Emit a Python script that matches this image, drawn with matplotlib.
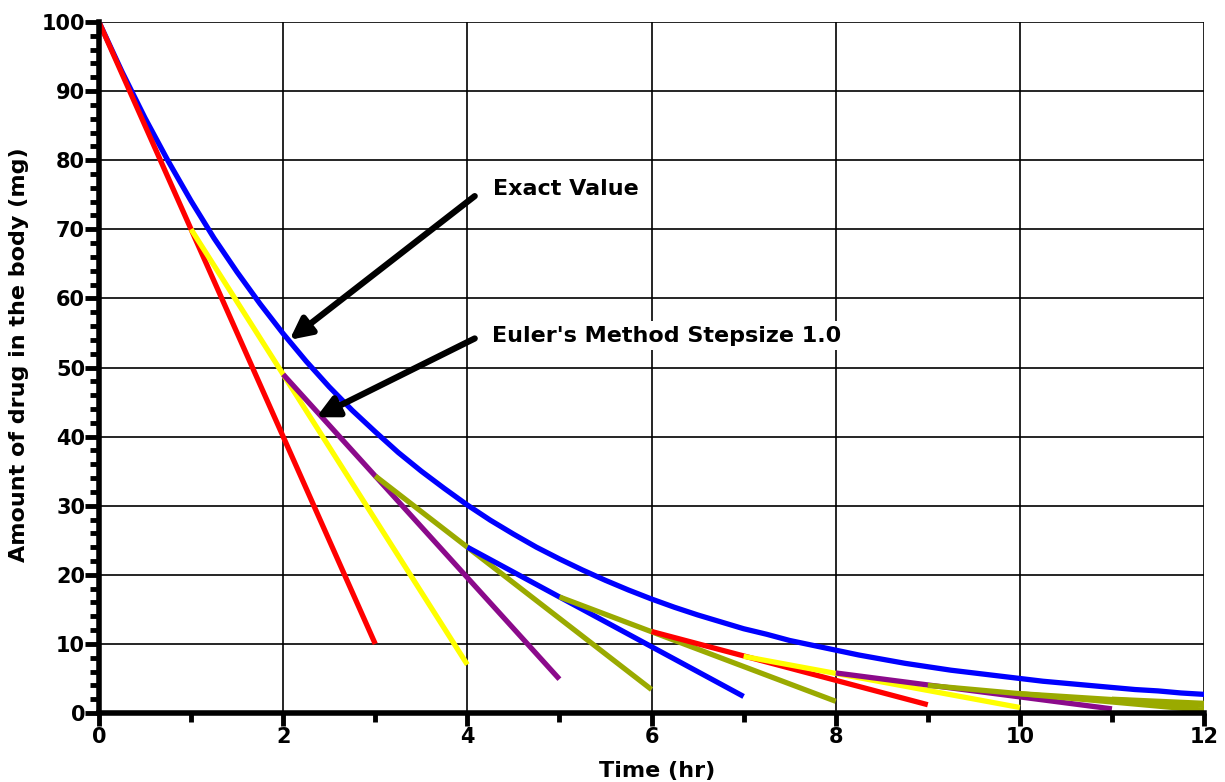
import matplotlib.pyplot as plt
from matplotlib.ticker import MultipleLocator

plt.rcParams["font.family"] = ["DejaVu Sans"]
plt.rcParams["font.weight"] = "bold"

# exact value, read every quarter hour
exact_t = [0, 0.25, 0.5, 0.75, 1, 1.25, 1.5, 1.75, 2, 2.25, 2.5, 2.75, 3,
           3.25, 3.5, 3.75, 4, 4.25, 4.5, 4.75, 5, 5.25, 5.5, 5.75, 6,
           6.25, 6.5, 6.75, 7, 7.25, 7.5, 7.75, 8, 8.25, 8.5, 8.75, 9,
           9.25, 9.5, 9.75, 10, 10.25, 10.5, 10.75, 11, 11.25, 11.5, 11.75, 12]
exact_y = [100, 92.8, 86.1, 79.9, 74.1, 68.7, 63.8, 59.2, 54.9, 50.9, 47.2,
           43.8, 40.7, 37.7, 35.0, 32.5, 30.1, 27.9, 25.9, 24.0, 22.3, 20.7,
           19.2, 17.8, 16.5, 15.3, 14.2, 13.2, 12.2, 11.4, 10.5, 9.8, 9.1,
           8.4, 7.8, 7.2, 6.7, 6.2, 5.8, 5.4, 5.0, 4.6, 4.3, 4.0, 3.7, 3.4,
           3.2, 2.9, 2.7]

# Euler tangent segments (start -> end)
seg_t0 = [0, 1, 2, 3, 4, 5, 6, 7, 8, 9, 10, 11]
seg_y0 = [100, 70, 49, 34.3, 24.0, 16.8, 11.8, 8.2, 5.8, 4.0, 2.8, 2.0]
seg_t1 = [3, 4, 5, 6, 7, 8, 9, 10, 11, 12, 12, 12]
seg_y1 = [10, 7.0, 4.9, 3.4, 2.4, 1.7, 1.2, 0.8, 0.6, 0.4, 1.1, 1.4]
seg_colors = ["#ff0000", "#ffff00", "#8b0a8b", "#9aaa00", "#0000ff", "#9aaa00",
              "#ff0000", "#ffff00", "#8b0a8b", "#9aaa00", "#9aaa00", "#9aaa00"]

fig = plt.figure(figsize=(12.25, 7.82), dpi=100)
ax = fig.add_axes([0.0808, 0.0882, 0.9021, 0.8837])

ax.plot(exact_t, exact_y, color="#0000ff", lw=3.8, zorder=3)
for i in range(len(seg_t0)):
    ax.plot([seg_t0[i], seg_t1[i]], [seg_y0[i], seg_y1[i]], color=seg_colors[i],
            lw=3.8, zorder=3 + i * 0.01, solid_capstyle="butt")

ax.set_xlim(0, 12)
ax.set_ylim(0, 100)
ax.xaxis.set_major_locator(MultipleLocator(2))
ax.xaxis.set_minor_locator(MultipleLocator(1))
ax.yaxis.set_major_locator(MultipleLocator(10))
ax.yaxis.set_minor_locator(MultipleLocator(2))

ax.grid(True, which="major", color="black", lw=1.2, zorder=1)
for s in ["top", "right"]:
    ax.spines[s].set_visible(False)
for s in ["left", "bottom"]:
    ax.spines[s].set_linewidth(4)
    ax.spines[s].set_zorder(5)
ax.tick_params(axis="y", which="major", length=10, width=3.5, labelsize=15, pad=0)
ax.tick_params(axis="x", which="major", length=9, width=3.5, labelsize=15, pad=1)
ax.tick_params(which="minor", length=6.5, width=3.5)
for lab in ax.get_xticklabels() + ax.get_yticklabels():
    lab.set_fontweight("bold")

ax.set_xlabel("Time (hr)", fontsize=16, fontweight="bold")
ax.set_ylabel("Amount of drug in the body (mg)", fontsize=16, fontweight="bold")
ax.xaxis.set_label_coords(0.505, -0.07)
ax.yaxis.set_label_coords(-0.063, 0.518)

arrow = dict(arrowstyle="-|>", lw=4.5, color="black", mutation_scale=32, shrinkA=0, shrinkB=0)
box = dict(facecolor="white", edgecolor="none", pad=3)
ax.annotate("", xy=(2.07, 54), xytext=(4.08, 74.8), arrowprops=arrow, zorder=6)
ax.text(4.28, 75.9, "Exact Value", fontsize=16, fontweight="bold", va="center",
        ha="left", bbox=box, zorder=6)
ax.annotate("", xy=(2.36, 42.8), xytext=(4.08, 54.2), arrowprops=arrow, zorder=6)
ax.text(4.27, 54.6, "Euler's Method Stepsize 1.0", fontsize=16, fontweight="bold",
        va="center", ha="left", bbox=box, zorder=6)

fig.savefig("out.png", dpi=100)
